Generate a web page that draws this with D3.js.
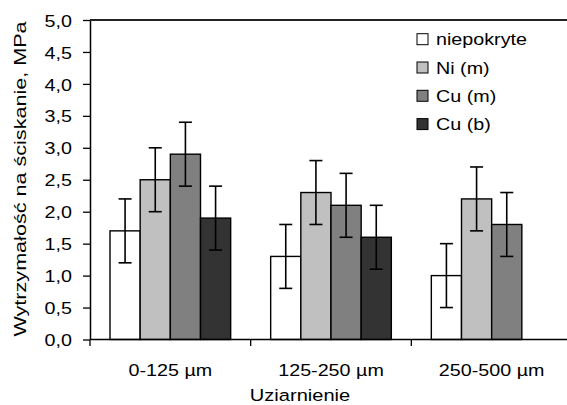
<!DOCTYPE html>
<html>
<head>
<meta charset="utf-8">
<script src="https://cdn.jsdelivr.net/npm/d3@7"></script>
<style>
  body { margin: 0; background: #fff; }
  svg { display: block; }
  text { font-family: "Liberation Sans", Arial, sans-serif; fill: #000; }
</style>
</head>
<body>
<svg id="chart" width="567" height="405"></svg>
<script>
// data
const categories = ["0-125 µm", "125-250 µm", "250-500 µm"]
const series = ["niepokryte", "Ni (m)", "Cu (m)", "Cu (b)"]
const colors = ["#ffffff", "#c0c0c0", "#808080", "#333333"]
const values = [
  [1.7, 2.5, 2.9, 1.9],
  [1.3, 2.3, 2.1, 1.6],
  [1.0, 2.2, 1.8, null]
]
const errors = [
  [0.5, 0.5, 0.5, 0.5],
  [0.5, 0.5, 0.5, 0.5],
  [0.5, 0.5, 0.5, null]
]
const yTicks = [0, 0.5, 1, 1.5, 2, 2.5, 3, 3.5, 4, 4.5, 5]

const svg = d3.select("#chart")
const plotL = 90, plotT = 20, plotB = 339.5, plotR = 572
const fs = 17
const stretch = 1.16 // the original font renders wider than Arial

const y = d3.scaleLinear().domain([0, 5]).range([plotB, plotT])
const x0 = d3.scaleBand().domain(categories).range([plotL, plotR])
const x1 = d3.scaleBand().domain(series).range([20, x0.bandwidth() - 20])

const fmt = v => d3.format(".1f")(v).replace(".", ",")

// bars
const rows = []
categories.forEach((c, i) => series.forEach((s, j) => {
  if (values[i][j] != null) rows.push({c, s, j, v: values[i][j], e: errors[i][j]})
}))

const g = svg.append("g")
g.selectAll("rect").data(rows).join("rect")
  .attr("x", d => x0(d.c) + x1(d.s))
  .attr("y", d => y(d.v))
  .attr("width", x1.bandwidth())
  .attr("height", d => y(0) - y(d.v))
  .attr("fill", d => colors[d.j])
  .attr("stroke", "#000")
  .attr("stroke-width", 1.4)

// error bars
const eb = g.selectAll("g.err").data(rows).join("g").attr("class", "err")
  .attr("transform", d => `translate(${x0(d.c) + x1(d.s) + x1.bandwidth() / 2},0)`)
  .attr("stroke", "#000").attr("stroke-width", 1.6)
eb.append("line").attr("y1", d => y(d.v + d.e)).attr("y2", d => y(d.v - d.e))
eb.append("line").attr("x1", -6.5).attr("x2", 6.5).attr("y1", d => y(d.v + d.e)).attr("y2", d => y(d.v + d.e))
eb.append("line").attr("x1", -6.5).attr("x2", 6.5).attr("y1", d => y(d.v - d.e)).attr("y2", d => y(d.v - d.e))

// y axis
const yAxis = svg.append("g").attr("transform", `translate(${plotL},0)`)
  .call(d3.axisLeft(y).tickValues(yTicks).tickFormat(fmt).tickSize(7).tickSizeOuter(0))
yAxis.attr("font-family", null).attr("font-size", null)
yAxis.select(".domain").attr("stroke", "#000").attr("stroke-width", 1.5)
yAxis.selectAll(".tick line").attr("stroke", "#000").attr("stroke-width", 1.3)
yAxis.selectAll(".tick text")
  .attr("x", 0).attr("dy", "0.36em")
  .attr("font-size", fs)
  .attr("transform", `translate(-18,0) scale(${stretch},1)`)

// x axis line, top frame line
svg.append("line").attr("x1", plotL).attr("x2", plotR).attr("y1", plotB).attr("y2", plotB)
  .attr("stroke", "#000").attr("stroke-width", 1.5)
svg.append("line").attr("x1", plotL).attr("x2", plotR).attr("y1", plotT).attr("y2", plotT)
  .attr("stroke", "#222").attr("stroke-width", 2)

// ticks at category boundaries
const bounds = categories.map(c => x0(c)).concat([x0.range()[1]])
svg.selectAll("line.xt").data(bounds).join("line").attr("class", "xt")
  .attr("x1", d => d).attr("x2", d => d).attr("y1", plotB).attr("y2", plotB + 6.5)
  .attr("stroke", "#000").attr("stroke-width", 1.3)

svg.selectAll("text.xl").data(categories).join("text").attr("class", "xl")
  .attr("text-anchor", "middle").attr("font-size", fs)
  .attr("transform", d => `translate(${x0(d) + x0.bandwidth() / 2},375.5) scale(${stretch},1)`)
  .text(d => d)

// axis titles
svg.append("text").attr("text-anchor", "middle").attr("font-size", fs)
  .attr("transform", `translate(300,400.5) scale(1.18,1)`)
  .text("Uziarnienie")
svg.append("text").attr("text-anchor", "middle").attr("font-size", fs)
  .attr("transform", `translate(26,179) rotate(-90) scale(1.27,1)`)
  .text("Wytrzymałość na ściskanie, MPa")

// legend
const leg = svg.selectAll("g.leg").data(series).join("g").attr("class", "leg")
  .attr("transform", (d, i) => `translate(417,${39.2 + i * 28.3})`)
leg.append("rect").attr("x", 0).attr("y", -5.5).attr("width", 11).attr("height", 11)
  .attr("fill", (d, i) => colors[i]).attr("stroke", "#000").attr("stroke-width", 1)
leg.append("text").attr("font-size", fs)
  .attr("transform", `translate(19,6) scale(${stretch},1)`)
  .text(d => d)
</script>
</body>
</html>
